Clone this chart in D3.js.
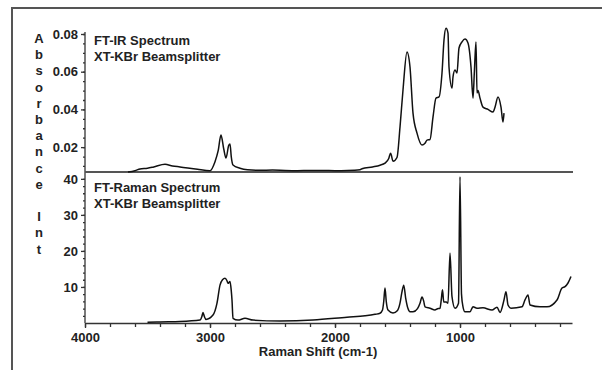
<!DOCTYPE html>
<head>
  <meta charset="utf-8">
  <style>
    body { margin: 0; background: #fff; }
    svg text { font-family: "Liberation Sans", Arial, sans-serif; font-weight: bold; fill: #222; }
    svg .tick text { font-size: 13px; }
    svg .domain, svg .tick line { stroke: #333; stroke-width: 1.3px; }
    svg .spectrum { fill: none; stroke: #111; stroke-width: 1.5px; stroke-linejoin: round; }
  </style>
</head>
<body>
<script src="https://d3js.org/d3.v7.min.js"></script>
<script>
  // FT-IR spectrum (wavenumber cm-1, absorbance)
  var irShift = [3656, 3600, 3560, 3500, 3450, 3360, 3300, 3240, 3100, 3000, 2960, 2935, 2912, 2890, 2872,
    2850, 2840, 2830, 2816, 2760, 2700, 2600, 2500, 2400, 2300, 2200, 2100, 2000, 1900, 1800, 1784, 1700,
    1640, 1600, 1570, 1555, 1536, 1504, 1480, 1456, 1424, 1400, 1376, 1344, 1304, 1280, 1264, 1240, 1216,
    1192, 1168, 1144, 1128, 1112, 1096, 1088, 1064, 1056, 1040, 1024, 1008, 984, 960, 936, 912, 896, 885,
    872, 864, 856, 840, 816, 776, 736, 720, 696, 672, 656, 648];
  var irAbs = [0.0068, 0.0075, 0.0084, 0.0088, 0.0095, 0.0109, 0.0100, 0.0095, 0.0082, 0.0075, 0.0123, 0.0180, 0.0264, 0.0190, 0.0142,
    0.0210, 0.0217, 0.0150, 0.0105, 0.0088, 0.0080, 0.0077, 0.0078, 0.0076, 0.0075, 0.0076, 0.0076, 0.0075, 0.0076, 0.0080, 0.0085, 0.0095,
    0.0104, 0.0115, 0.0140, 0.0168, 0.0125, 0.0145, 0.0306, 0.0503, 0.0705, 0.0625, 0.0380, 0.0274, 0.0211, 0.0221, 0.0237, 0.0240, 0.0359,
    0.0460, 0.0466, 0.0593, 0.0768, 0.0830, 0.0805, 0.0625, 0.0513, 0.0572, 0.0609, 0.0593, 0.0726, 0.0758, 0.0773, 0.0752, 0.0625, 0.0460, 0.0600,
    0.0758, 0.0487, 0.0500, 0.0460, 0.0412, 0.0400, 0.0386, 0.0412, 0.0466, 0.0412, 0.0333, 0.0380];

  // FT-Raman spectrum (Raman shift cm-1, intensity)
  var ramanShift = [3500, 3400, 3240, 3080, 3065, 3056, 3045, 3032, 2976, 2944, 2920, 2900, 2880, 2865, 2856,
    2840, 2830, 2824, 2816, 2776, 2720, 2656, 2440, 2176, 1904, 1760, 1680, 1640, 1620, 1610, 1600, 1590,
    1576, 1536, 1500, 1480, 1465, 1450, 1435, 1416, 1400, 1376, 1340, 1320, 1304, 1290, 1280, 1240, 1200,
    1184, 1160, 1150, 1140, 1130, 1110, 1096, 1080, 1064, 1040, 1012, 1000, 988, 976, 960, 920, 896,
    864, 816, 744, 704, 680, 648, 632, 616, 592, 504, 480, 456, 440, 360, 304, 224, 184, 160, 136, 112];
  var ramanInt = [0.2, 0.3, 0.4, 0.8, 1.8, 2.9, 1.8, 1.0, 2.2, 5.5, 10.5, 12, 12.4, 11.8, 11,
    11.5, 9, 6.4, 1.3, 0.8, 1.3, 0.8, 0.55, 0.8, 1.6, 2.0, 2.4, 2.7, 3.6, 6.0, 9.7, 6,
    3.6, 2.8, 3.5, 5.5, 8.5, 10.5, 7, 4.0, 3.1, 3.1, 4, 5.5, 7.2, 6, 4.5, 4.1, 3.6,
    3.9, 4.1, 6.4, 9.2, 5.8, 5.8, 5.5, 19.4, 7.3, 4.1, 5.5, 40.6, 8, 4.5, 3.1, 3.1, 4.5,
    4.1, 4.2, 3.6, 4.4, 2.9, 6.4, 8.7, 5, 4.1, 4.5, 6.4, 7.8, 5, 4.5, 4.5, 6.4, 9.7, 10.1, 11.1, 12.9];

  var xTicks = [4000, 3000, 2000, 1000];
  var irTicks = [0.02, 0.04, 0.06, 0.08];
  var ramanTicks = [10, 20, 30, 40];
  var yLabel = ["A", "b", "s", "o", "r", "b", "a", "n", "c", "e", "", "I", "n", "t"];

  var plotLeft = 85, plotRight = 572, plotTop = 34, plotMid = 172, plotBottom = 323;

  var svg = d3.select("body").append("svg")
      .attr("width", 602)
      .attr("height", 370);

  // outer frame (left and top edges only visible)
  svg.append("path")
      .attr("d", "M12,370V8H602")
      .style("fill", "none")
      .style("stroke", "#555")
      .style("stroke-width", "2px");

  var xScale = d3.scaleLinear().domain([4000, 104]).range([plotLeft, plotRight]);
  var irScale = d3.scaleLinear().domain([0.0068, 0.08]).range([plotMid, plotTop]);
  var ramanScale = d3.scaleLinear().domain([0, 41.9]).range([plotBottom, plotMid]);

  // x axis: minor ticks every 200, labels every 1000
  svg.append("g")
      .attr("transform", "translate(0," + plotBottom + ")")
      .call(d3.axisBottom(xScale).tickValues(d3.range(4000, 100, -200)).tickSize(4).tickFormat(""))
      .call(function (g) { g.select(".domain").remove(); });
  svg.append("g")
      .attr("transform", "translate(0," + plotBottom + ")")
      .call(d3.axisBottom(xScale).tickValues(xTicks).tickSize(5).tickSizeOuter(0).tickPadding(5).tickFormat(d3.format("d")));

  // IR y axis
  svg.append("g")
      .attr("transform", "translate(" + plotLeft + ",0)")
      .call(d3.axisLeft(irScale).tickValues(d3.range(0.01, 0.0801, 0.005)).tickSize(2).tickFormat(""))
      .call(function (g) { g.select(".domain").remove(); });
  svg.append("g")
      .attr("transform", "translate(" + plotLeft + ",0)")
      .call(d3.axisLeft(irScale).tickValues(irTicks).tickSize(4).tickSizeOuter(0).tickPadding(3).tickFormat(d3.format(".2f")))
      .call(function (g) { g.select(".domain").attr("d", "M0," + (plotTop - 2) + "V" + plotMid); });

  // Raman y axis
  svg.append("g")
      .attr("transform", "translate(" + plotLeft + ",0)")
      .call(d3.axisLeft(ramanScale).tickValues(d3.range(2, 41, 2)).tickSize(2).tickFormat(""))
      .call(function (g) { g.select(".domain").remove(); });
  svg.append("g")
      .attr("transform", "translate(" + plotLeft + ",0)")
      .call(d3.axisLeft(ramanScale).tickValues(ramanTicks).tickSize(4).tickSizeOuter(0).tickPadding(3).tickFormat(d3.format("d")))
      .call(function (g) { g.select(".domain").attr("d", "M0," + plotMid + "V" + plotBottom); });

  // separator between the two panels
  svg.append("line")
      .attr("x1", plotLeft).attr("x2", plotRight + 1)
      .attr("y1", plotMid).attr("y2", plotMid)
      .style("stroke", "#555")
      .style("stroke-width", "2px");

  // spectra
  var irLine = d3.line()
    .x(function (d, i) { return xScale(irShift[i]); })
    .y(function (d) { return irScale(d); })
    .curve(d3.curveMonotoneX);
  svg.append("path")
      .classed("spectrum", true)
      .attr("d", irLine(irAbs));

  var ramanLine = d3.line()
    .x(function (d, i) { return xScale(ramanShift[i]); })
    .y(function (d) { return ramanScale(d); })
    .curve(d3.curveMonotoneX);
  svg.append("path")
      .classed("spectrum", true)
      .attr("d", ramanLine(ramanInt));

  // panel titles
  var titles = [
    { y: 45, text: "FT-IR Spectrum" },
    { y: 61, text: "XT-KBr Beamsplitter" },
    { y: 192, text: "FT-Raman Spectrum" },
    { y: 208, text: "XT-KBr Beamsplitter" }
  ];
  svg.selectAll("text.title")
    .data(titles)
    .enter().append("text")
      .classed("title", true)
      .attr("x", 94)
      .attr("y", function (d) { return d.y; })
      .style("font-size", "13px")
      .text(function (d) { return d.text; });

  // stacked y label
  svg.selectAll("text.ylab")
    .data(yLabel)
    .enter().append("text")
      .classed("ylab", true)
      .attr("x", 39)
      .attr("y", function (d, i) { return 43 + i * 16.2; })
      .style("text-anchor", "middle")
      .style("font-size", "13px")
      .text(function (d) { return d; });

  // x axis title
  svg.append("text")
      .attr("x", 318)
      .attr("y", 356)
      .style("text-anchor", "middle")
      .style("font-size", "13px")
      .text("Raman Shift (cm-1)");
</script>
</body>
</html>
